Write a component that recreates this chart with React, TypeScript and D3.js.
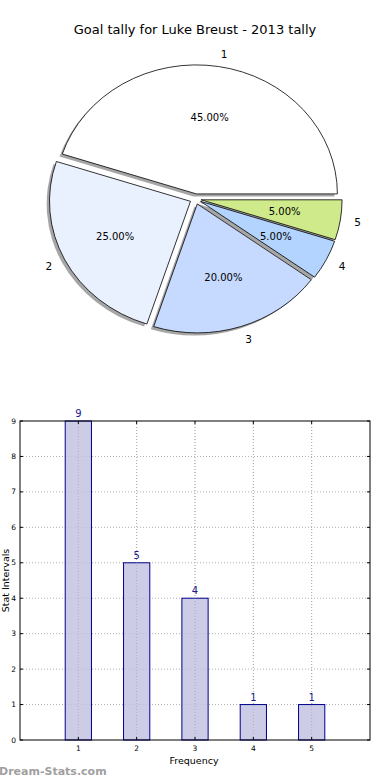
import React from "react";
import * as d3 from "d3";

const categories = ["1", "2", "3", "4", "5"];
const values = [9, 5, 4, 1, 1];
const pieColors = ["#ffffff", "#eaf1fe", "#c6daff", "#b3d4ff", "#cfea8b"];
const yTicks = [0, 1, 2, 3, 4, 5, 6, 7, 8, 9];
const xTicks = [1, 2, 3, 4, 5];
const title = "Goal tally for Luke Breust - 2013 tally";

const W = 390;
const H = 780;

export default function App() {
  // Pie (elliptical, matplotlib style)
  const cx = 195.5;
  const cy = 199;
  const rx = 141;
  const ry = 129;
  const explode = 0.04;
  const total = d3.sum(values);
  const pie = d3
    .pie<number>()
    .sort(null)
    .startAngle(Math.PI / 2)
    .endAngle(Math.PI / 2 - 2 * Math.PI);
  const arcs = pie(values);
  const arcGen = d3.arc<any>().innerRadius(0).outerRadius(rx);
  const sy = ry / rx;

  const wedges = arcs.map((a, i) => {
    const mid = (a.startAngle + a.endAngle) / 2;
    const ux = Math.sin(mid);
    const uy = -Math.cos(mid);
    const ox = explode * rx * ux;
    const oy = explode * ry * uy;
    const lr = 1.1 + explode;
    const pr = 0.6 + explode;
    return {
      path: arcGen(a) as string,
      ox,
      oy,
      lx: cx + lr * rx * ux,
      ly: cy + lr * ry * uy,
      px: cx + pr * rx * ux,
      py: cy + pr * ry * uy,
      right: ux >= 0,
      pct: ((values[i] / total) * 100).toFixed(2) + "%",
      color: pieColors[i],
    };
  });

  // Bar chart
  const left = 20;
  const right = 370;
  const top = 421;
  const bottom = 740;
  const x = d3.scaleLinear().domain([0, 6]).range([left, right]);
  const y = d3.scaleLinear().domain([0, 9]).range([bottom, top]);
  const barW = x(0.45) - x(0);

  const font = "DejaVu Sans, sans-serif";

  return (
    <svg
      width={W}
      height={H}
      style={{ position: "absolute", left: 0, top: 0, background: "#fff" }}
      fontFamily={font}
    >
      <rect x={0} y={0} width={W} height={H} fill="#fff" />
      <text x={195} y={34} textAnchor="middle" fontSize={13} fill="#000">
        {title}
      </text>

      {/* shadows */}
      {wedges.map((w, i) => (
        <path
          key={"s" + i}
          d={w.path}
          transform={`translate(${cx + w.ox - 0.02 * rx},${cy + w.oy + 0.02 * ry}) scale(1,${sy})`}
          fill="#4d4d4d"
          fillOpacity={0.5}
          stroke="none"
        />
      ))}
      {wedges.map((w, i) => (
        <path
          key={"w" + i}
          d={w.path}
          transform={`translate(${cx + w.ox},${cy + w.oy}) scale(1,${sy})`}
          fill={w.color}
          stroke="#000"
          strokeWidth={0.8}
          vectorEffect="non-scaling-stroke"
          strokeLinejoin="round"
        />
      ))}
      {wedges.map((w, i) => (
        <text
          key={"l" + i}
          x={w.lx}
          y={w.ly}
          textAnchor={w.right ? "start" : "end"}
          dominantBaseline="central"
          fontSize={10.5}
        >
          {categories[i]}
        </text>
      ))}
      {wedges.map((w, i) => (
        <text
          key={"p" + i}
          x={w.px}
          y={w.py}
          textAnchor="middle"
          dominantBaseline="central"
          fontSize={10}
        >
          {w.pct}
        </text>
      ))}

      {/* bar chart grid */}
      {yTicks.slice(1, -1).map((t) => (
        <line
          key={"gy" + t}
          x1={left}
          x2={right}
          y1={y(t)}
          y2={y(t)}
          stroke="#b0b0b0"
          strokeWidth={1}
          strokeDasharray="1,2"
        />
      ))}
      {xTicks.map((t) => (
        <line
          key={"gx" + t}
          x1={x(t)}
          x2={x(t)}
          y1={top}
          y2={bottom}
          stroke="#b0b0b0"
          strokeWidth={1}
          strokeDasharray="1,2"
        />
      ))}
      {values.map((v, i) => (
        <rect
          key={"b" + i}
          x={x(i + 1) - barW / 2}
          y={y(v)}
          width={barW}
          height={y(0) - y(v)}
          fill="#bfbfe0"
          fillOpacity={0.8}
          stroke="#00008b"
          strokeWidth={1}
        />
      ))}
      {xTicks.map((t) => (
        <line
          key={"gx2" + t}
          x1={x(t)}
          x2={x(t)}
          y1={top}
          y2={bottom}
          stroke="#a8a8a8"
          strokeWidth={1}
          strokeDasharray="1,2"
          strokeOpacity={0.6}
        />
      ))}
      {values.map((v, i) => (
        <text
          key={"bv" + i}
          x={x(i + 1)}
          y={y(v) - 4}
          textAnchor="middle"
          fontSize={10}
          fill="#1a1a8c"
        >
          {v}
        </text>
      ))}
      <rect
        x={left}
        y={top}
        width={right - left}
        height={bottom - top}
        fill="none"
        stroke="#000"
        strokeWidth={1}
      />
      {yTicks.map((t) => (
        <g key={"yt" + t}>
          <line x1={left} x2={left + 3} y1={y(t)} y2={y(t)} stroke="#000" />
          <line x1={right} x2={right - 3} y1={y(t)} y2={y(t)} stroke="#000" />
          <text
            x={left - 4}
            y={y(t)}
            textAnchor="end"
            dominantBaseline="central"
            fontSize={7.5}
          >
            {t}
          </text>
        </g>
      ))}
      {xTicks.map((t) => (
        <g key={"xt" + t}>
          <line x1={x(t)} x2={x(t)} y1={bottom} y2={bottom - 3} stroke="#000" />
          <line x1={x(t)} x2={x(t)} y1={top} y2={top + 3} stroke="#000" />
          <text x={x(t)} y={bottom + 11} textAnchor="middle" fontSize={7.5}>
            {t}
          </text>
        </g>
      ))}
      <text x={194} y={764} textAnchor="middle" fontSize={9.5}>
        Frequency
      </text>
      <text
        transform={`translate(8.5,${(top + bottom) / 2}) rotate(-90)`}
        textAnchor="middle"
        fontSize={9.5}
      >
        Stat Intervals
      </text>
      <text x={-1} y={775} fontSize={11} fill="#a0a0a0" fontWeight="bold">
        Dream-Stats.com
      </text>
    </svg>
  );
}
